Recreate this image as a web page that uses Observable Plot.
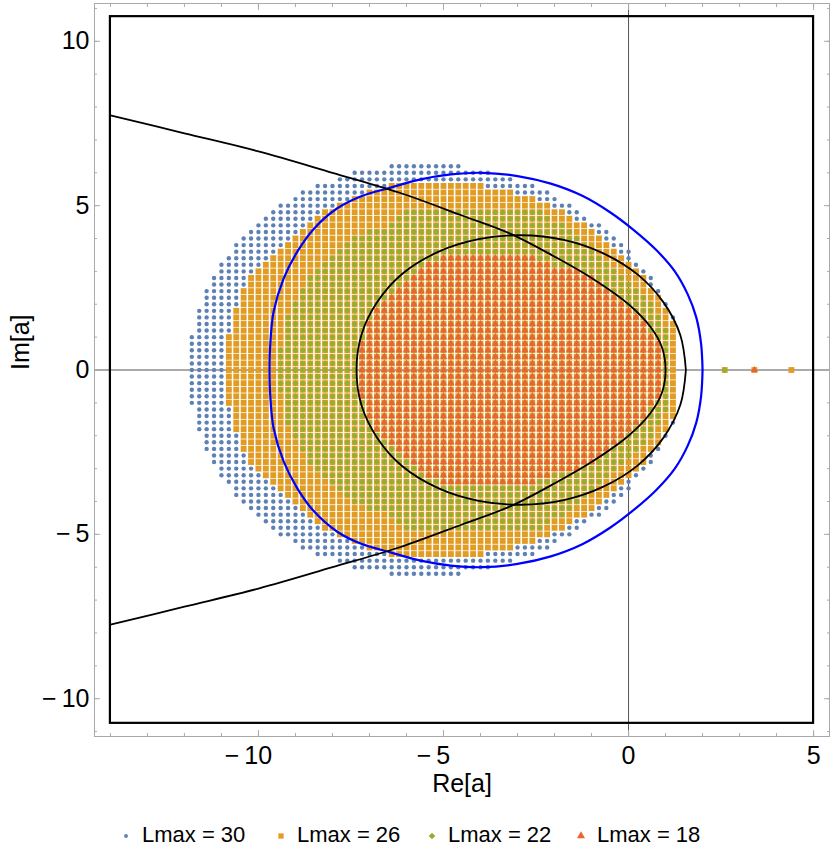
<!DOCTYPE html>
<html><head><meta charset="utf-8">
<script src="https://cdn.jsdelivr.net/npm/d3@7"></script>
<script src="https://cdn.jsdelivr.net/npm/@observablehq/plot@0.6"></script>
<style>
body{margin:0;background:#fff;font-family:"Liberation Sans",Arial,sans-serif;}
#chart{width:830px;height:800px;}
#legend{position:relative;width:830px;height:62px;font-size:22px;color:#000;}
#legend .it{position:absolute;top:22px;height:26px;line-height:26px;white-space:nowrap;}
#legend svg{position:absolute;top:0;}
</style></head><body>
<div id="chart"></div>
<div id="legend"></div>
<script>
// ---- grid rows (upper half, mirrored to lower half) ----
const gridStep = 0.2;
const rowY = [0,0.2,0.4,0.6,0.8,1.0,1.2,1.4,1.6,1.8,2.0,2.2,2.4,2.6,2.8,3.0,3.2,3.4,3.6,3.8,4.0,4.2,4.4,4.6,4.8,5.0,5.2,5.4,5.6,5.8,6.0,6.2];
// Lmax = 30 (blue dots) row extents
const blueMin = [-11.8,-11.8,-11.8,-11.8,-11.8,-11.8,-11.6,-11.6,-11.6,-11.6,-11.4,-11.4,-11.4,-11.2,-11.2,-11.0,-11.0,-10.8,-10.6,-10.6,-10.4,-10.2,-10.0,-9.8,-9.6,-9.4,-9.0,-8.8,-8.4,-7.8,-7.4,-6.4];
const blueMax = [1.2,1.2,1.2,1.2,1.2,1.2,1.2,1.2,1.2,1.0,1.0,0.8,0.8,0.6,0.6,0.4,0.2,0.0,0.0,-0.2,-0.4,-0.6,-0.8,-1.2,-1.4,-1.6,-2.0,-2.2,-2.6,-3.2,-3.8,-4.6];
// Lmax = 26 (orange squares)
const orangeMin = [-10.8,-10.8,-10.8,-10.8,-10.8,-10.8,-10.6,-10.6,-10.6,-10.6,-10.4,-10.4,-10.4,-10.2,-10.2,-10.0,-9.8,-9.6,-9.4,-9.2,-9.0,-8.8,-8.6,-8.4,-8.2,-7.8,-7.4,-7.0,-6.4,null,null,null];
const orangeMax = [1.2,1.2,1.2,1.2,1.2,1.2,1.2,1.2,1.0,1.0,0.8,0.8,0.6,0.4,0.4,0.2,0.0,-0.2,-0.4,-0.6,-0.8,-1.0,-1.2,-1.6,-1.8,-2.2,-2.6,-3.2,-4.0,null,null,null];
// Lmax = 22 (green diamonds)
const greenMin = [-9.4,-9.4,-9.4,-9.4,-9.2,-9.2,-9.2,-9.2,-9.2,-9.0,-9.0,-8.8,-8.8,-8.6,-8.6,-8.4,-8.2,-8.0,-7.8,-7.6,-7.4,-7.0,-6.4,-6.2,-6.0,null,null,null,null,null,null,null];
const greenMax = [1.0,1.0,1.0,1.0,1.0,1.0,1.0,0.8,0.8,0.6,0.6,0.4,0.2,0.0,-0.2,-0.4,-0.6,-0.8,-1.0,-1.2,-1.4,-1.6,-1.8,-2.2,-2.4,null,null,null,null,null,null,null];
// Lmax = 18 (red triangles)
const redMin = [-7.2,-7.2,-7.2,-7.2,-7.2,-7.0,-7.0,-7.0,-6.8,-6.8,-6.6,-6.4,-6.2,-6.0,-5.8,-5.6,-5.4,-5.0,null,null,null,null,null,null,null,null,null,null,null,null,null,null];
const redMax = [0.8,0.8,0.8,0.8,0.8,0.6,0.4,0.4,0.2,0.0,-0.2,-0.4,-0.6,-0.8,-1.0,-1.4,-2.2,-2.6,null,null,null,null,null,null,null,null,null,null,null,null,null,null];
// isolated points on the real axis
const orangeExtraX = [2.6,3.4,4.4];
const greenExtraX = [2.6];
const redExtraX = [3.4];

// ---- curves (upper half, mirrored) ----
const blueCurveX = [2.0,1.96,1.83,1.6,1.25,0.75,0.15,-0.5,-1.25,-2.1,-3.0,-3.95,-4.8,-5.62,-6.43,-7.24,-7.87,-8.5,-8.95,-9.32,-9.59,-9.68,-9.7];
const blueCurveY = [0,0.8,1.6,2.3,3.0,3.65,4.25,4.8,5.3,5.67,5.9,6.0,5.95,5.8,5.55,5.28,4.92,4.3,3.6,2.78,1.77,0.8,0];
const ovalX = [1.55,1.4,0.95,0.25,-0.68,-1.75,-2.9,-4.05,-5.13,-6.12,-6.8,-7.22,-7.35];
const ovalY = [0,1.06,2.05,2.9,3.55,3.96,4.1,3.98,3.6,2.92,2.05,1.06,0];
const parabX = [1.0,0.9,0.6,0,-1,-2,-3.2,-4.5,-6.2,-8,-10,-12,-14];
const parabY = [0,0.7,1.3,2.0,2.8,3.45,4.15,4.7,5.4,6.0,6.65,7.2,7.75];
// bounding rectangle
const boxX = [-14,5];
const boxY = [-10.75,10.75];

// ---- ticks ----
const xMajorNeg = [-10,-5];
const xMajorPos = [0,5];
const xMinor = d3.range(-14,6,1);
const yMajor = [-10,-5,0,5,10];
const yMinor = d3.range(-11,12,1);

const colors = {b:"#5E81B5", o:"#E19C24", g:"#8FB032", r:"#EB6235"};

function expand(mins, maxs, extra){
  const pts=[];
  rowY.forEach((y,i)=>{
    const a=mins[i], b=maxs[i];
    if(a==null) return;
    const n=Math.round((b-a)/gridStep);
    for(let k=0;k<=n;k++){
      const x=+(a+gridStep*k).toFixed(2);
      pts.push({x,y});
      if(y!==0) pts.push({x,y:-y});
    }
  });
  (extra||[]).forEach(x=>pts.push({x,y:0}));
  return pts;
}
function closed(xs, ys){
  const up = xs.map((x,i)=>({x,y:ys[i]}));
  const down = xs.slice().reverse().map((x,i)=>({x,y:-ys[xs.length-1-i]}));
  return up.concat(down.slice(1));
}
function open(xs, ys){
  const up = xs.map((x,i)=>({x,y:ys[i]})).reverse();
  const down = xs.map((x,i)=>({x,y:-ys[i]}));
  return up.concat(down.slice(1));
}
const fmt = d => d<0 ? "\u2212\u2009"+(-d) : String(d);

const blueP = expand(blueMin, blueMax);
const orangeP = expand(orangeMin, orangeMax, orangeExtraX);
const greenP = expand(greenMin, greenMax, greenExtraX);
const redP = expand(redMin, redMax, redExtraX);

const font = '"Liberation Sans", Arial, sans-serif';
const plot = Plot.plot({
  width:830, height:800,
  marginLeft:94, marginRight:1, marginTop:3, marginBottom:64,
  x:{domain:[-14.43,5.43]},
  y:{domain:[-11.15,11.15]},
  style:{fontFamily:font, fontSize:"25px", color:"#000", background:"#fff", overflow:"visible"},
  marks:[
    Plot.ruleX([0],{stroke:"#555", strokeWidth:1}),
    Plot.ruleY([0],{stroke:"#555", strokeWidth:1}),
    Plot.dot(blueP,{x:"x",y:"y",r:2.2,fill:colors.b,stroke:null}),
    Plot.dot(orangeP,{x:"x",y:"y",symbol:"square",r:3.3,fill:colors.o,stroke:null}),
    Plot.dot(greenP,{x:"x",y:"y",symbol:"diamond2",r:2.7,fill:colors.g,stroke:null}),
    Plot.dot(redP,{x:"x",y:"y",symbol:"triangle",r:2.6,fill:colors.r,stroke:null}),
    Plot.rect([{x1:boxX[0],x2:boxX[1],y1:boxY[0],y2:boxY[1]}],{x1:"x1",x2:"x2",y1:"y1",y2:"y2",fill:"none",stroke:"#000",strokeWidth:2.2}),
    Plot.line(closed(blueCurveX,blueCurveY),{x:"x",y:"y",curve:"catmull-rom",stroke:"#0000FF",strokeWidth:2.2}),
    Plot.line(closed(ovalX,ovalY),{x:"x",y:"y",curve:"catmull-rom",stroke:"#000",strokeWidth:1.8}),
    Plot.line(open(parabX,parabY),{x:"x",y:"y",curve:"catmull-rom",stroke:"#000",strokeWidth:1.8}),
    Plot.frame({stroke:"#aaa"}),
    Plot.axisX(xMinor,{anchor:"bottom",tickSize:-3,tickFormat:()=>"",stroke:"#aaa"}),
    Plot.axisX(xMinor,{anchor:"top",tickSize:-3,tickFormat:()=>"",stroke:"#aaa"}),
    Plot.axisY(yMinor,{anchor:"left",tickSize:-3,tickFormat:()=>"",stroke:"#aaa"}),
    Plot.axisY(yMinor,{anchor:"right",tickSize:-3,tickFormat:()=>"",stroke:"#aaa"}),
    Plot.axisX(xMajorNeg,{anchor:"bottom",tickSize:0,tickPadding:10,tickFormat:fmt,dx:-10,fill:"#000",label:null}),
    Plot.axisX(xMajorNeg.concat(xMajorPos),{anchor:"bottom",tickSize:-6,tickFormat:()=>"",stroke:"#aaa",label:null}),
    Plot.axisX(xMajorPos,{anchor:"bottom",tickSize:0,tickPadding:10,tickFormat:fmt,fill:"#000",label:null}),
    Plot.axisX(xMajorNeg.concat(xMajorPos),{anchor:"top",tickSize:-6,tickFormat:()=>"",stroke:"#aaa",label:null}),
    Plot.axisY(yMajor,{anchor:"left",tickSize:0,tickPadding:5,tickFormat:fmt,fill:"#000",label:null}),
    Plot.axisY(yMajor,{anchor:"left",tickSize:-6,tickFormat:()=>"",stroke:"#aaa",label:null}),
    Plot.axisY(yMajor,{anchor:"right",tickSize:-6,tickFormat:()=>"",stroke:"#aaa",label:null}),
    Plot.text(["Re[a]"],{frameAnchor:"bottom",dy:55,fontSize:25,fill:"#000"}),
    Plot.text(["Im[a]"],{frameAnchor:"left",dx:-74,rotate:-90,fontSize:25,fill:"#000"})
  ]
});
document.getElementById("chart").appendChild(plot);

// ---- legend ----
const legendLabels = ["Lmax = 30","Lmax = 26","Lmax = 22","Lmax = 18"];
const legendSymbols = ["circle","square","diamond2","triangle"];
const legendColors = [colors.b,colors.o,colors.g,colors.r];
const legendMarkerX = [126,281,432,581];
const lg = document.getElementById("legend");
legendLabels.forEach((t,i)=>{
  const sym = {circle:d3.symbolCircle,square:d3.symbolSquare,diamond2:d3.symbolDiamond2,triangle:d3.symbolTriangle}[legendSymbols[i]];
  const s = d3.create("svg").attr("width",12).attr("height",62).style("left",(legendMarkerX[i]-6)+"px");
  s.append("path").attr("d",d3.symbol(sym, i===0?12:28)()).attr("transform","translate(6,36)").attr("fill",legendColors[i]);
  lg.appendChild(s.node());
  const d = document.createElement("div");
  d.className="it"; d.textContent=t; d.style.left=(legendMarkerX[i]+16)+"px";
  lg.appendChild(d);
});
</script>
</body></html>
